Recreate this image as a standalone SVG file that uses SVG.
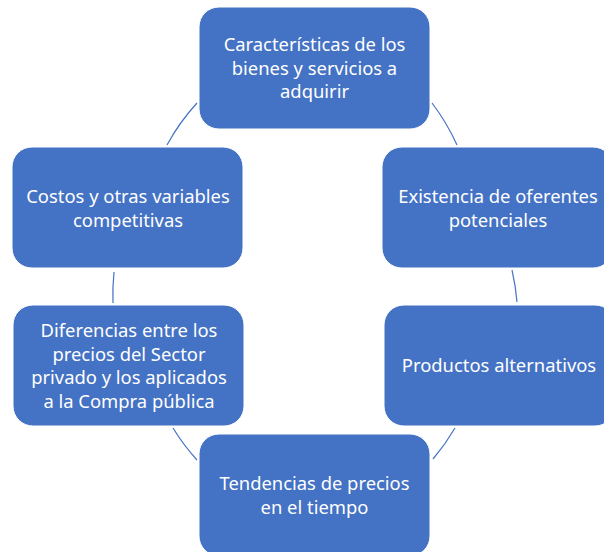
<svg xmlns="http://www.w3.org/2000/svg" width="604" height="552" viewBox="0 0 604 552">
<style>
.node rect{fill:#4472C4;stroke:#ffffff;stroke-width:1}
.node text{fill:#ffffff;font-family:"Noto Sans","Open Sans","Liberation Sans",sans-serif;font-size:18.4px;text-anchor:middle}
.conn path{fill:none;stroke:#4472C4;stroke-width:1.2}
</style>
<rect width="604" height="552" fill="#ffffff"/>
<g class="conn" id="connectors">
<path d="M432,103 A200,213.5 0 0 1 457,145"/>
<path d="M512,270 A200,213.5 0 0 1 517,302"/>
<path d="M455,428 A200,213.5 0 0 1 433,459"/>
<path d="M197,460 A200,213.5 0 0 1 173,428"/>
<path d="M113,303 A200,213.5 0 0 1 114,272"/>
<path d="M167,145 A200,213.5 0 0 1 197,103"/>
</g>
<g class="node" id="n1">
<rect x="199" y="7" width="231" height="122" rx="20"/>
<text x="314.5" y="51">Características de los</text>
<text x="314.5" y="74.5">bienes y servicios a</text>
<text x="314.5" y="98">adquirir</text>
</g>
<g class="node" id="n2">
<rect x="382" y="147" width="231" height="121" rx="20"/>
<text x="498" y="203">Existencia de oferentes</text>
<text x="498" y="226.5">potenciales</text>
</g>
<g class="node" id="n3">
<rect x="384" y="305" width="231" height="121" rx="20"/>
<text x="499" y="371.5">Productos alternativos</text>
</g>
<g class="node" id="n4">
<rect x="199" y="434" width="231" height="122" rx="20"/>
<text x="314.5" y="490">Tendencias de precios</text>
<text x="314.5" y="513.5">en el tiempo</text>
</g>
<g class="node" id="n5">
<rect x="13" y="305" width="231" height="121" rx="20"/>
<text x="129" y="337">Diferencias entre los</text>
<text x="129" y="360.5">precios del Sector</text>
<text x="129" y="384">privado y los aplicados</text>
<text x="129" y="407.5">a la Compra pública</text>
</g>
<g class="node" id="n6">
<rect x="12" y="147" width="231" height="121" rx="20"/>
<text x="128" y="203">Costos y otras variables</text>
<text x="128" y="226.5">competitivas</text>
</g>
</svg>
